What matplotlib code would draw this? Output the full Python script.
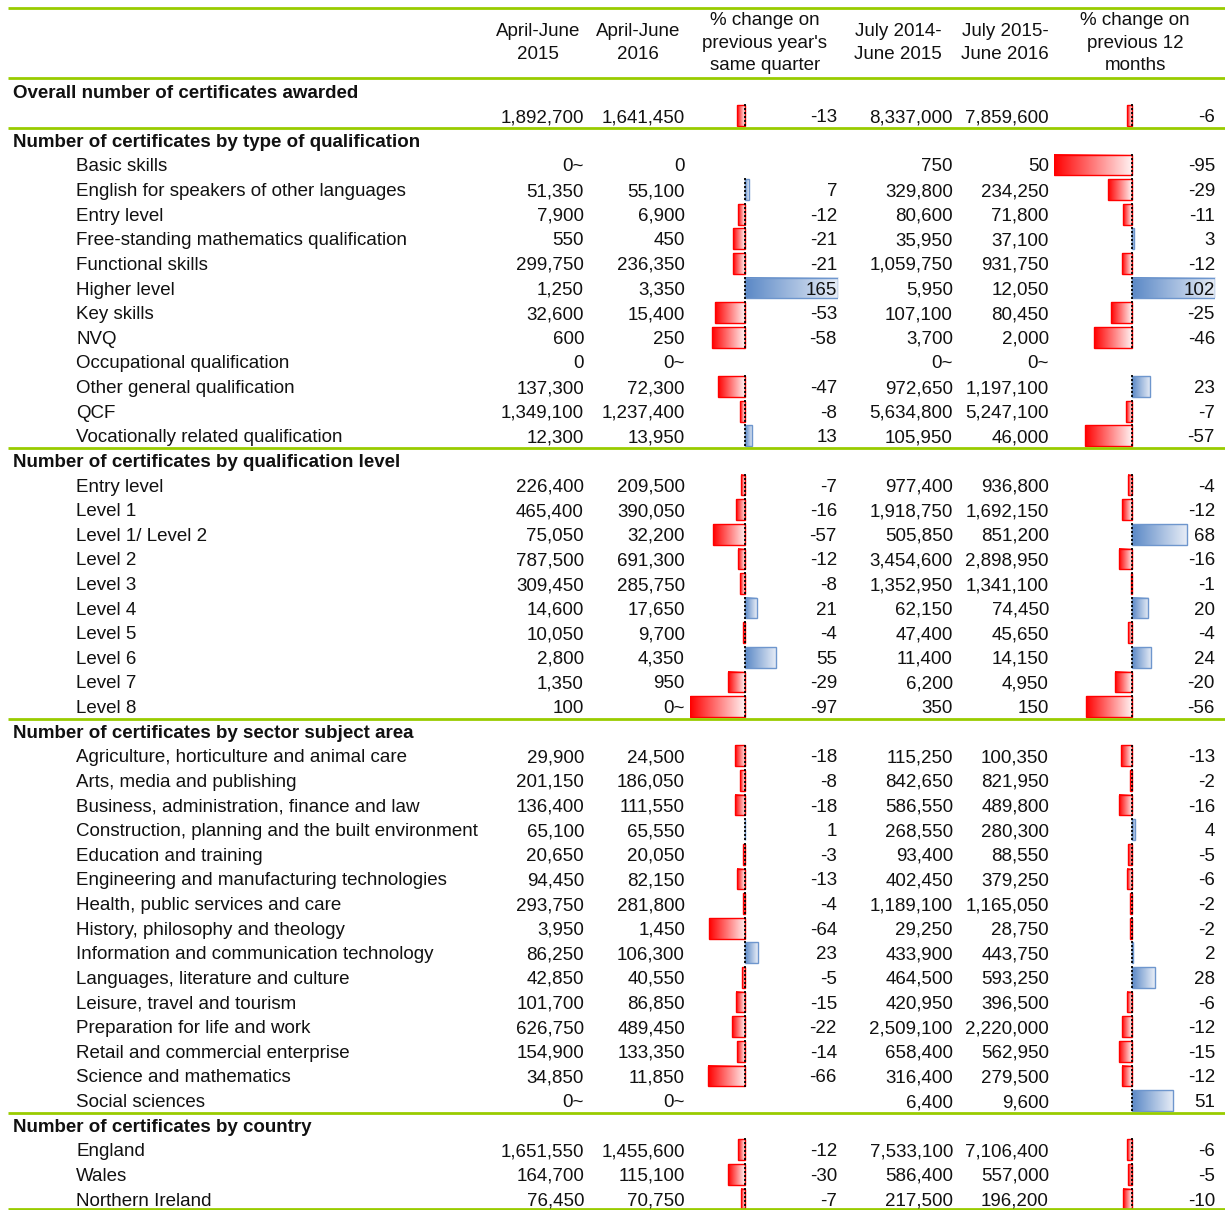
import matplotlib
matplotlib.use("Agg")
import matplotlib.pyplot as plt
import numpy as np
from matplotlib.colors import LinearSegmentedColormap

# ---------------- data ----------------
col_headers = ["April-June\n2015", "April-June\n2016",
               "% change on\nprevious year's\nsame quarter",
               "July 2014-\nJune 2015", "July 2015-\nJune 2016",
               "% change on\nprevious 12\nmonths"]

section_titles = ["Overall number of certificates awarded",
                  "Number of certificates by type of qualification",
                  "Number of certificates by qualification level",
                  "Number of certificates by sector subject area",
                  "Number of certificates by country"]

section_labels = [
    [""],
    ["Basic skills", "English for speakers of other languages", "Entry level",
     "Free-standing mathematics qualification", "Functional skills", "Higher level",
     "Key skills", "NVQ", "Occupational qualification", "Other general qualification",
     "QCF", "Vocationally related qualification"],
    ["Entry level", "Level 1", "Level 1/ Level 2", "Level 2", "Level 3", "Level 4",
     "Level 5", "Level 6", "Level 7", "Level 8"],
    ["Agriculture, horticulture and animal care", "Arts, media and publishing",
     "Business, administration, finance and law",
     "Construction, planning and the built environment", "Education and training",
     "Engineering and manufacturing technologies", "Health, public services and care",
     "History, philosophy and theology", "Information and communication technology",
     "Languages, literature and culture", "Leisure, travel and tourism",
     "Preparation for life and work", "Retail and commercial enterprise",
     "Science and mathematics", "Social sciences"],
    ["England", "Wales", "Northern Ireland"],
]

# one entry per data row (all sections, in order); "0~" = rounded to zero
aprjun_2015 = [1892700,
               "0~", 51350, 7900, 550, 299750, 1250, 32600, 600, 0, 137300, 1349100, 12300,
               226400, 465400, 75050, 787500, 309450, 14600, 10050, 2800, 1350, 100,
               29900, 201150, 136400, 65100, 20650, 94450, 293750, 3950, 86250, 42850,
               101700, 626750, 154900, 34850, "0~",
               1651550, 164700, 76450]
aprjun_2016 = [1641450,
               0, 55100, 6900, 450, 236350, 3350, 15400, 250, "0~", 72300, 1237400, 13950,
               209500, 390050, 32200, 691300, 285750, 17650, 9700, 4350, 950, "0~",
               24500, 186050, 111550, 65550, 20050, 82150, 281800, 1450, 106300, 40550,
               86850, 489450, 133350, 11850, "0~",
               1455600, 115100, 70750]
pct_quarter = [-13,
               None, 7, -12, -21, -21, 165, -53, -58, None, -47, -8, 13,
               -7, -16, -57, -12, -8, 21, -4, 55, -29, -97,
               -18, -8, -18, 1, -3, -13, -4, -64, 23, -5, -15, -22, -14, -66, None,
               -12, -30, -7]
jul_2015 = [8337000,
            750, 329800, 80600, 35950, 1059750, 5950, 107100, 3700, "0~", 972650, 5634800, 105950,
            977400, 1918750, 505850, 3454600, 1352950, 62150, 47400, 11400, 6200, 350,
            115250, 842650, 586550, 268550, 93400, 402450, 1189100, 29250, 433900, 464500,
            420950, 2509100, 658400, 316400, 6400,
            7533100, 586400, 217500]
jul_2016 = [7859600,
            50, 234250, 71800, 37100, 931750, 12050, 80450, 2000, "0~", 1197100, 5247100, 46000,
            936800, 1692150, 851200, 2898950, 1341100, 74450, 45650, 14150, 4950, 150,
            100350, 821950, 489800, 280300, 88550, 379250, 1165050, 28750, 443750, 593250,
            396500, 2220000, 562950, 279500, 9600,
            7106400, 557000, 196200]
pct_12m = [-6,
           -95, -29, -11, 3, -12, 102, -25, -46, None, 23, -7, -57,
           -4, -12, 68, -16, -1, 20, -4, 24, -20, -56,
           -13, -2, -16, 4, -5, -6, -2, -2, 2, 28, -6, -12, -15, -12, 51,
           -6, -5, -10]

# ---------------- layout ----------------
W, H, DPI = 1225, 1210, 100
ROW0, ROWH = 91.1, 24.62          # pixel centre of first row, row height
FONT = ["Liberation Sans", "DejaVu Sans"]
FS = 13.5
GREEN = "#99CC00"
col_right = [584, 685, 837, 953, 1049, 1215]
col_center = [538, 638, 765, 898, 1005, 1135]
bar_cols = [(690, 838), (1054, 1215)]   # pixel extent of the data-bar cells


def prow(px):
    return (px - ROW0) / ROWH


y_top, y_bot = prow(0), prow(H)

fig = plt.figure(figsize=(W / DPI, H / DPI), dpi=DPI)
fig.patch.set_facecolor("white")

# build row list
rows = []      # (kind, label, data_index)
di = 0
for title, labels in zip(section_titles, section_labels):
    rows.append(("title", title, None))
    for lab in labels:
        rows.append(("data", lab, di))
        di += 1

neg_cmap = LinearSegmentedColormap.from_list("neg", ["#FFF2F2", "#FF0000"])
pos_cmap = LinearSegmentedColormap.from_list("pos", ["#5A88C6", "#E9EEF7"])
grad = np.linspace(0, 1, 256).reshape(1, -1)

# ---------------- data bar axes ----------------
for (x0, x1), vals in zip(bar_cols, [pct_quarter, pct_12m]):
    bax = fig.add_axes([x0 / W, 0, (x1 - x0) / W, 1], zorder=1)
    bax.patch.set_alpha(0)
    nums = [v for v in vals if v is not None]
    bh = 0.84
    for r, (kind, lab, idx) in enumerate(rows):
        if kind != "data" or vals[idx] is None:
            continue
        v = vals[idx]
        color = "#FF0000" if v < 0 else "#6E96CD"
        bars = bax.barh(r, v, height=bh, left=0, facecolor="none",
                        edgecolor=color, linewidth=1.0, zorder=3)
        b = bars[0]
        bx0, bx1 = b.get_x(), b.get_x() + b.get_width()
        bax.imshow(grad, extent=(bx0, bx1, r + bh / 2, r - bh / 2),
                   cmap=neg_cmap if v < 0 else pos_cmap, aspect="auto",
                   interpolation="bilinear", zorder=2)
        bax.plot([0, 0], [r - bh / 2 - 0.04, r + bh / 2 + 0.04], color="black",
                 lw=1.3, ls=(0, (1.2, 1.0)), zorder=4)
    bax.set_xlim(min(nums), max(nums))
    bax.set_ylim(y_bot, y_top)
    bax.axis("off")

# ---------------- text / rules axes ----------------
ax = fig.add_axes([0, 0, 1, 1], zorder=5)
ax.patch.set_alpha(0)
ax.set_xlim(0, W)
ax.set_ylim(y_bot, y_top)
ax.axis("off")


def fmt(v):
    if v is None:
        return ""
    if isinstance(v, str):
        return v
    return f"{v:,}"


# headers
for hdr, cx in zip(col_headers, col_center):
    ax.text(cx, prow(43), hdr, ha="center", va="center", fontsize=FS,
            family=FONT, linespacing=1.42, color="#111111")

columns = [aprjun_2015, aprjun_2016, pct_quarter, jul_2015, jul_2016, pct_12m]
for r, (kind, lab, idx) in enumerate(rows):
    if kind == "title":
        ax.text(13, r, lab, ha="left", va="center_baseline", fontsize=FS,
                family=FONT, fontweight="bold", color="#111111")
        continue
    if lab:
        ax.text(76, r, lab, ha="left", va="center_baseline", fontsize=FS,
                family=FONT, color="#111111")
    for col, xr in zip(columns, col_right):
        ax.text(xr, r, fmt(col[idx]), ha="right", va="center_baseline",
                fontsize=FS, family=FONT, color="#111111")

# green rules
rule_rows = [prow(7.5), prow(78)]
cum = 0
for labels in section_labels:
    cum += 1 + len(labels)
    rule_rows.append(cum - 0.5)
rule_rows[-1] = prow(1208.5)
for ry in rule_rows:
    ax.plot([8, W], [ry, ry], color=GREEN, lw=2.0, solid_capstyle="butt")

fig.savefig("out.png", dpi=DPI, facecolor="white")
